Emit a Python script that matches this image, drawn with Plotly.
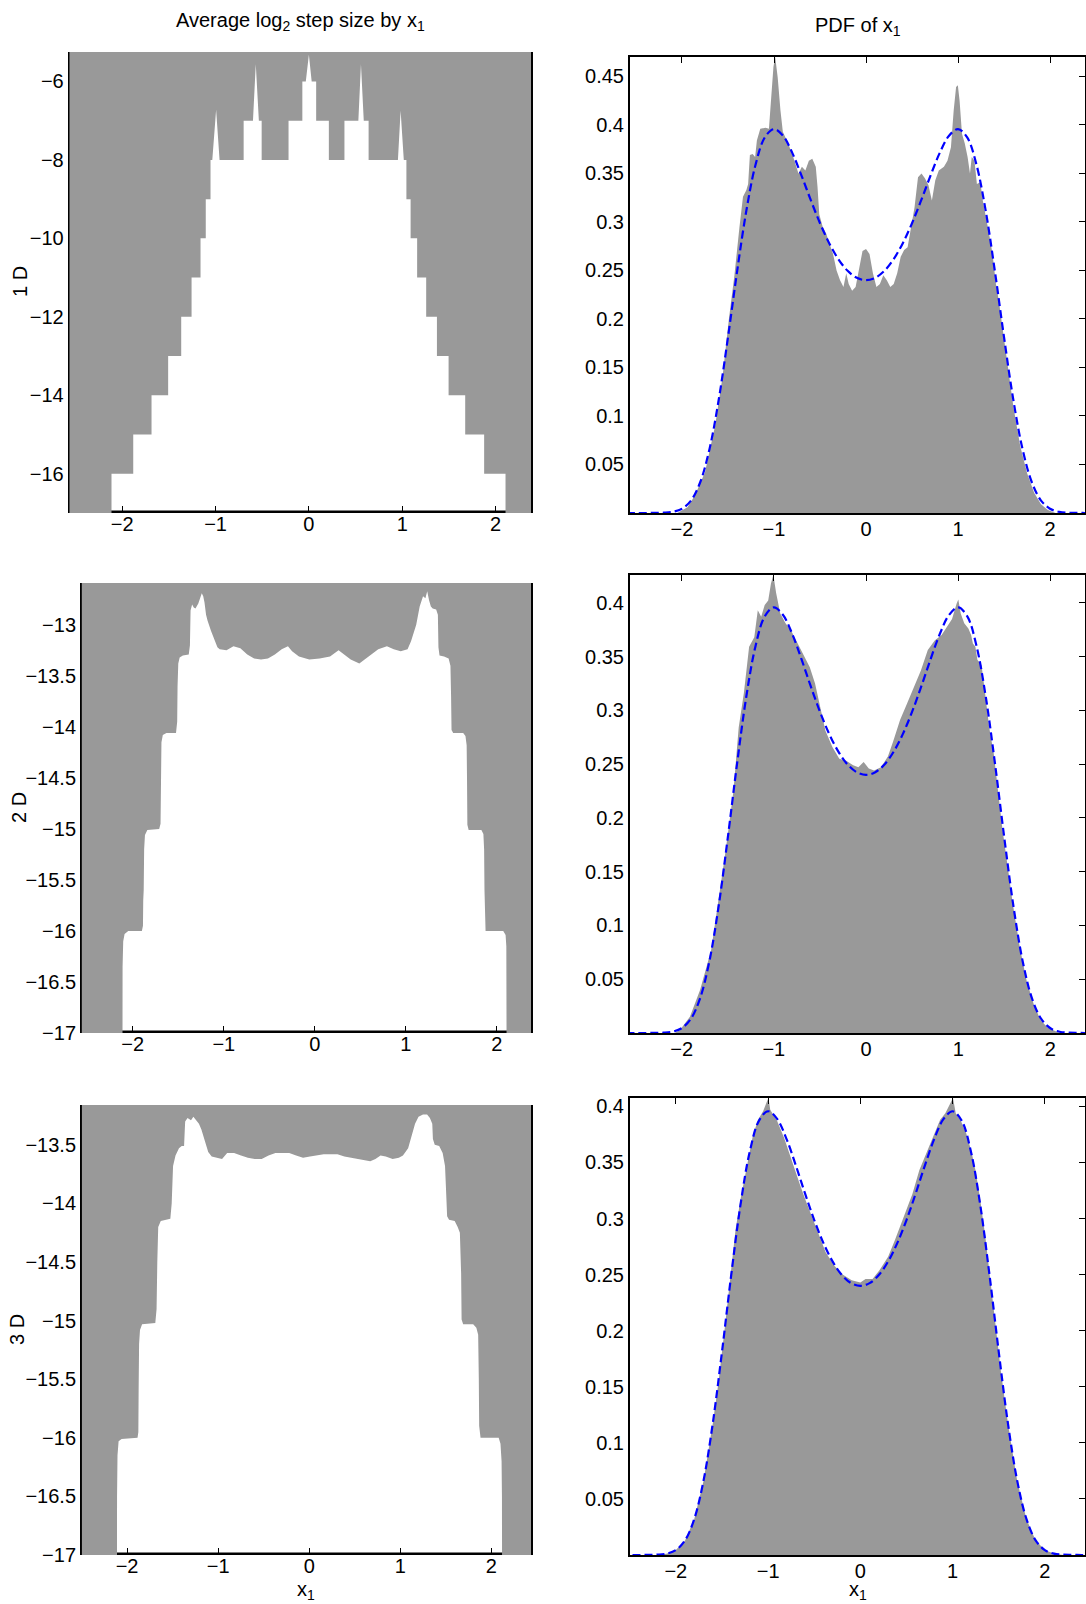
import plotly.graph_objects as go

W, H = 1086, 1604
FONT = "Liberation Sans, Arial, Helvetica, sans-serif"
GRAY = "#999999"
BLUE = "#0000ff"

# ---------------- data ----------------
x_ticks = [-2, -1, 0, 1, 2]

# Average log2 step size by x1, 1 D
step1d_x = [-2.57, -2.115, -2.115, -1.882, -1.882, -1.686, -1.686, -1.508, -1.508, -1.368,
            -1.368, -1.257, -1.257, -1.161, -1.161, -1.105, -1.105, -1.054, -1.054, -1.035,
            -0.994, -0.957, -0.699, -0.699, -0.599, -0.569, -0.536, -0.506, -0.506, -0.218,
            -0.218, -0.070, -0.070, -0.033, 0.0, 0.030, 0.078, 0.078, 0.214, 0.214,
            0.381, 0.381, 0.530, 0.558, 0.588, 0.640, 0.640, 0.954, 0.983, 1.017,
            1.045, 1.045, 1.090, 1.090, 1.160, 1.160, 1.257, 1.257, 1.372, 1.372,
            1.497, 1.497, 1.675, 1.675, 1.878, 1.878, 2.107, 2.107, 2.38]
step1d_y = [-18, -18, -16, -16, -15, -15, -14, -14, -13, -13,
            -12, -12, -11, -11, -10, -10, -9, -9, -8, -8,
            -6.72, -8, -8, -7, -7, -5.56, -7, -7, -8, -8,
            -7, -7, -6, -6, -5.32, -6, -6, -7, -7, -8,
            -8, -7, -7, -5.56, -7, -7, -8, -8, -6.75, -8,
            -8, -9, -9, -10, -10, -11, -11, -12, -12, -13,
            -13, -14, -14, -15, -15, -16, -16, -18, -18]

# 2 D
step2d_x = [-2.57, -2.114, -2.112, -2.105, -2.09, -2.05, -1.90, -1.888, -1.885, -1.880,
            -1.875, -1.866, -1.84, -1.71, -1.695, -1.690, -1.685, -1.67, -1.63, -1.525,
            -1.512, -1.508, -1.50, -1.485, -1.45, -1.385, -1.372, -1.365, -1.348, -1.33,
            -1.311, -1.28, -1.26, -1.242, -1.226, -1.212, -1.195, -1.178, -1.14, -1.102,
            -1.07, -1.045, -0.97, -0.894, -0.818, -0.742, -0.667, -0.591, -0.515, -0.439,
            -0.364, -0.295, -0.25, -0.174, -0.061, 0.053, 0.167, 0.261, 0.318, 0.394,
            0.489, 0.545, 0.621, 0.697, 0.792, 0.867, 0.943, 1.019, 1.057, 1.114,
            1.152, 1.189, 1.215, 1.235, 1.255, 1.275, 1.295, 1.333, 1.352, 1.358,
            1.37, 1.42, 1.47, 1.49, 1.497, 1.502, 1.52, 1.63, 1.655, 1.668,
            1.672, 1.676, 1.69, 1.83, 1.852, 1.86, 1.864, 1.868, 1.876, 2.07,
            2.096, 2.104, 2.107, 2.109, 2.38]
step2d_y = [-18, -18, -16.35, -16.1, -16.03, -16.0, -16.0, -15.95, -15.7, -15.6,
            -15.2, -15.06, -15.01, -15.0, -14.95, -14.5, -14.15, -14.08, -14.06, -14.06,
            -13.95, -13.6, -13.38, -13.32, -13.3, -13.29, -13.2, -12.86, -12.8, -12.83,
            -12.84, -12.79, -12.74, -12.69, -12.72, -12.78, -12.9, -12.96, -13.06, -13.15,
            -13.22, -13.24, -13.25, -13.21, -13.23, -13.29, -13.33, -13.34, -13.33, -13.29,
            -13.24, -13.21, -13.26, -13.31, -13.34, -13.33, -13.31, -13.25, -13.29, -13.34,
            -13.38, -13.34, -13.29, -13.24, -13.21, -13.24, -13.26, -13.24, -13.16, -13.0,
            -12.82, -12.72, -12.74, -12.67, -12.76, -12.82, -12.84, -12.85, -12.9, -13.22,
            -13.3, -13.31, -13.33, -13.4, -13.7, -14.03, -14.06, -14.06, -14.09, -14.18,
            -14.5, -14.96, -15.01, -15.01, -15.05, -15.2, -15.6, -15.9, -16.0, -16.0,
            -16.04, -16.15, -16.45, -18, -18]

# 3 D
step3d_x = [-2.50, -2.112, -2.11, -2.105, -2.093, -2.06, -1.885, -1.876, -1.873, -1.868,
            -1.858, -1.835, -1.69, -1.676, -1.668, -1.658, -1.63, -1.525, -1.51, -1.506,
            -1.495, -1.468, -1.43, -1.40, -1.374, -1.368, -1.362, -1.336, -1.298, -1.272,
            -1.241, -1.211, -1.184, -1.147, -1.109, -1.071, -1.014, -0.957, -0.901, -0.825,
            -0.749, -0.674, -0.598, -0.522, -0.447, -0.371, -0.295, -0.219, -0.144, -0.068,
            0.008, 0.083, 0.159, 0.235, 0.310, 0.386, 0.462, 0.537, 0.613, 0.670,
            0.727, 0.783, 0.840, 0.916, 0.984, 1.029, 1.086, 1.124, 1.162, 1.200,
            1.249, 1.294, 1.325, 1.351, 1.358, 1.378, 1.427, 1.465, 1.491, 1.502,
            1.514, 1.535, 1.597, 1.63, 1.654, 1.668, 1.673, 1.69, 1.80, 1.835,
            1.855, 1.862, 1.866, 1.881, 2.08, 2.10, 2.112, 2.116, 2.119, 2.44]
step3d_y = [-18, -18, -16.5, -16.15, -16.03, -16.01, -16.0, -15.95, -15.6, -15.2,
            -15.08, -15.03, -15.02, -14.9, -14.5, -14.2, -14.15, -14.13, -14.0, -13.85,
            -13.68, -13.59, -13.53, -13.51, -13.51, -13.4, -13.3, -13.27, -13.29, -13.26,
            -13.29, -13.32, -13.37, -13.47, -13.56, -13.6, -13.61, -13.62, -13.57, -13.57,
            -13.59, -13.61, -13.62, -13.62, -13.59, -13.57, -13.57, -13.57, -13.59, -13.61,
            -13.6, -13.59, -13.58, -13.58, -13.58, -13.6, -13.61, -13.62, -13.63, -13.64,
            -13.62, -13.59, -13.6, -13.62, -13.61, -13.59, -13.53, -13.43, -13.32, -13.26,
            -13.24, -13.24, -13.27, -13.32, -13.45, -13.5, -13.51, -13.57, -13.68, -13.88,
            -14.11, -14.14, -14.15, -14.2, -14.25, -14.6, -14.99, -15.03, -15.03, -15.06,
            -15.12, -15.5, -15.9, -16.0, -16.0, -16.05, -16.2, -16.5, -18, -18]

# PDF of x1: sampled histograms
hist1d_x = [-2.05, -1.94, -1.86, -1.75, -1.64, -1.56, -1.49, -1.46, -1.43, -1.375,
            -1.337, -1.30, -1.281, -1.262, -1.232, -1.205, -1.186, -1.149, -1.092, -1.055,
            -1.036, -1.006, -0.987, -0.960, -0.930, -0.904, -0.847, -0.791, -0.734, -0.697,
            -0.659, -0.621, -0.584, -0.546, -0.527, -0.508, -0.471, -0.433, -0.395, -0.358,
            -0.320, -0.282, -0.245, -0.215, -0.188, -0.151, -0.113, -0.075, -0.038, 0.0,
            0.038, 0.075, 0.113, 0.151, 0.188, 0.226, 0.264, 0.301, 0.339, 0.377,
            0.414, 0.452, 0.490, 0.527, 0.565, 0.603, 0.640, 0.678, 0.716, 0.753,
            0.791, 0.847, 0.885, 0.923, 0.953, 0.979, 0.998, 1.017, 1.043, 1.073,
            1.104, 1.130, 1.149, 1.179, 1.205, 1.243, 1.269, 1.299, 1.337, 1.375,
            1.412, 1.443, 1.525, 1.601, 1.676, 1.751, 1.827, 1.902, 1.977, 2.06]
hist1d_y = [0.0, 0.006, 0.018, 0.042, 0.09, 0.14, 0.2, 0.222, 0.245, 0.295,
            0.326, 0.333, 0.339, 0.369, 0.37, 0.367, 0.384, 0.396, 0.397, 0.396,
            0.425, 0.46, 0.47, 0.449, 0.415, 0.393, 0.381, 0.367, 0.35, 0.357,
            0.353, 0.363, 0.365, 0.357, 0.336, 0.308, 0.295, 0.288, 0.277, 0.267,
            0.25, 0.24, 0.233, 0.247, 0.236, 0.229, 0.233, 0.253, 0.27, 0.272,
            0.267, 0.247, 0.233, 0.236, 0.245, 0.24, 0.233, 0.236, 0.247, 0.264,
            0.271, 0.274, 0.295, 0.315, 0.346, 0.35, 0.345, 0.338, 0.322, 0.343,
            0.353, 0.357, 0.363, 0.377, 0.415, 0.439, 0.441, 0.425, 0.391, 0.381,
            0.367, 0.35, 0.367, 0.363, 0.339, 0.341, 0.322, 0.305, 0.288, 0.267,
            0.236, 0.219, 0.161, 0.11, 0.069, 0.041, 0.021, 0.009, 0.003, 0.0]

hist2d_x = [-2.08, -2.02, -1.91, -1.80, -1.68, -1.61, -1.53, -1.494, -1.438, -1.381,
            -1.325, -1.268, -1.212, -1.174, -1.137, -1.099, -1.061, -1.031, -1.005, -0.975,
            -0.930, -0.873, -0.817, -0.741, -0.666, -0.610, -0.553, -0.497, -0.440, -0.365,
            -0.290, -0.215, -0.139, -0.083, -0.026, 0.030, 0.087, 0.162, 0.237, 0.294,
            0.369, 0.444, 0.519, 0.595, 0.670, 0.745, 0.820, 0.877, 0.933, 0.982,
            1.001, 1.027, 1.065, 1.110, 1.140, 1.159, 1.186, 1.208, 1.253, 1.291,
            1.336, 1.385, 1.441, 1.479, 1.536, 1.592, 1.667, 1.743, 1.818, 1.893,
            1.968, 2.08, 2.12]
hist2d_y = [0.0, 0.0025, 0.015, 0.04, 0.077, 0.117, 0.165, 0.188, 0.225, 0.284,
            0.316, 0.359, 0.368, 0.393, 0.387, 0.398, 0.402, 0.418, 0.426, 0.409,
            0.39, 0.381, 0.375, 0.362, 0.35, 0.34, 0.325, 0.303, 0.281, 0.266,
            0.255, 0.253, 0.249, 0.247, 0.252, 0.246, 0.244, 0.247, 0.257, 0.271,
            0.291, 0.306, 0.322, 0.337, 0.356, 0.365, 0.37, 0.378, 0.385, 0.399,
            0.403, 0.39, 0.381, 0.376, 0.37, 0.362, 0.359, 0.347, 0.342, 0.316,
            0.284, 0.26, 0.215, 0.19, 0.155, 0.12, 0.08, 0.048, 0.027, 0.012,
            0.005, 0.0006, 0.0]

hist3d_x = [-2.2, -2.1, -2.0, -1.9, -1.8, -1.7, -1.6, -1.541, -1.466, -1.391,
            -1.353, -1.297, -1.248, -1.203, -1.165, -1.109, -1.053, -1.015, -0.996, -0.977,
            -0.902, -0.827, -0.752, -0.658, -0.602, -0.526, -0.451, -0.376, -0.282, -0.188,
            -0.094, 0.0, 0.056, 0.132, 0.207, 0.301, 0.376, 0.47, 0.564, 0.639,
            0.714, 0.789, 0.865, 0.921, 0.977, 1.004, 1.034, 1.09, 1.147, 1.203,
            1.248, 1.297, 1.353, 1.41, 1.466, 1.523, 1.6, 1.7, 1.8, 1.9,
            2.0, 2.1, 2.2]
hist3d_y = [0.0, 0.0012, 0.0045, 0.013, 0.032, 0.066, 0.117, 0.152, 0.205, 0.262,
            0.29, 0.318, 0.34, 0.36, 0.374, 0.388, 0.396, 0.404, 0.4075, 0.397,
            0.387, 0.372, 0.353, 0.331, 0.318, 0.302, 0.285, 0.27, 0.258, 0.25,
            0.245, 0.243, 0.246, 0.246, 0.254, 0.266, 0.281, 0.302, 0.322, 0.343,
            0.358, 0.373, 0.388, 0.394, 0.403, 0.4075, 0.394, 0.387, 0.376, 0.36,
            0.343, 0.318, 0.285, 0.243, 0.203, 0.164, 0.117, 0.066, 0.032, 0.013,
            0.0045, 0.0012, 0.0]

# blue dashed reference density
pdf_x = [-2.6, -2.5, -2.4, -2.3, -2.2, -2.1, -2.0, -1.9, -1.8, -1.7,
         -1.6, -1.5, -1.4, -1.3, -1.2, -1.1, -1.0, -0.9, -0.8, -0.7,
         -0.6, -0.5, -0.4, -0.3, -0.2, -0.1, 0.0, 0.1, 0.2, 0.3,
         0.4, 0.5, 0.6, 0.7, 0.8, 0.9, 1.0, 1.1, 1.2, 1.3,
         1.4, 1.5, 1.6, 1.7, 1.8, 1.9, 2.0, 2.1, 2.2, 2.3,
         2.4, 2.5]
pdf_y = [0.0, 0.0, 0.0, 0.0001, 0.0003, 0.0012, 0.0044, 0.0131, 0.0322, 0.0663,
         0.1172, 0.1812, 0.2496, 0.3119, 0.3592, 0.3871, 0.3957, 0.3886, 0.3709, 0.3475,
         0.3224, 0.2987, 0.2781, 0.2616, 0.2496, 0.2424, 0.2400, 0.2424, 0.2496, 0.2616,
         0.2781, 0.2987, 0.3224, 0.3475, 0.3709, 0.3886, 0.3957, 0.3871, 0.3592, 0.3119,
         0.2496, 0.1812, 0.1172, 0.0663, 0.0322, 0.0131, 0.0044, 0.0012, 0.0003, 0.0001,
         0.0, 0.0]

left_yticks = [[-16, -14, -12, -10, -8, -6],
               [-17, -16.5, -16, -15.5, -15, -14.5, -14, -13.5, -13],
               [-17, -16.5, -16, -15.5, -15, -14.5, -14, -13.5]]
right_yticks = [[0.05, 0.1, 0.15, 0.2, 0.25, 0.3, 0.35, 0.4, 0.45],
                [0.05, 0.1, 0.15, 0.2, 0.25, 0.3, 0.35, 0.4],
                [0.05, 0.1, 0.15, 0.2, 0.25, 0.3, 0.35, 0.4]]
row_labels = ["1 D", "2 D", "3 D"]

# ---------------- layout (pixels) ----------------
xlims = [[-2.565, 2.38], [-2.56, 2.375], [-2.497, 2.435]]
left_ylims = [[-17, -5.25], [-17, -12.59], [-17, -13.16]]
right_ylims = [[0, 0.47], [0, 0.4258], [0, 0.4075]]
left_boxes = [(69.5, 531, 52, 513), (81.8, 531, 583, 1033), (81.8, 531, 1105, 1555)]
right_boxes = [(630, 1085, 57, 513), (630, 1085, 575, 1033), (630, 1085, 1098, 1555)]
row_label_pos = [(20, 282), (19, 808), (17, 1330)]


def fmt(v):
    return f"{v:g}".replace("-", "\u2212")


def xdom(l, r):
    return [l / W, r / W]


def ydom(t, b):
    return [1 - b / H, 1 - t / H]


tickfont = dict(family=FONT, size=20, color="black")
common = dict(showgrid=False, zeroline=False, linecolor="black",
              tickcolor="black", tickfont=tickfont,
              automargin=False, fixedrange=True)

left_curves = [(step1d_x, step1d_y), (step2d_x, step2d_y), (step3d_x, step3d_y)]
right_hists = [(hist1d_x, hist1d_y), (hist2d_x, hist2d_y), (hist3d_x, hist3d_y)]

fig = go.Figure()
layout = {}

for r in range(3):
    kl = 2 * r + 1
    kr = 2 * r + 2
    ko = 7 + r  # overlay axes for the mirrored ticks of the right panel
    # ----- left panel -----
    lx, rx, ty, by = left_boxes[r]
    cx, cy = left_curves[r]
    # bottom axis line, hidden wherever the grey area reaches the bottom
    fig.add_trace(go.Scatter(x=xlims[r], y=[left_ylims[r][0]] * 2, mode="lines",
                             line=dict(color="black", width=5), hoverinfo="skip",
                             xaxis=f"x{kl}", yaxis=f"y{kl}", showlegend=False))
    fig.add_trace(go.Scatter(x=cx, y=cy, mode="lines", line=dict(color=GRAY, width=0),
                             fill="tozeroy", fillcolor=GRAY, hoverinfo="skip",
                             xaxis=f"x{kl}", yaxis=f"y{kl}", showlegend=False))
    layout[f"xaxis{kl}"] = dict(common, domain=xdom(lx, rx), anchor=f"y{kl}",
                                range=xlims[r], tickvals=x_ticks,
                                ticktext=[fmt(v) for v in x_ticks],
                                showline=False, mirror=True,
                                ticks="inside", ticklen=7, tickwidth=1.3,
                                ticklabelstandoff=-3, layer="below traces")
    layout[f"yaxis{kl}"] = dict(common, domain=ydom(ty, by), anchor=f"x{kl}",
                                range=left_ylims[r], tickvals=left_yticks[r],
                                ticktext=[fmt(v) for v in left_yticks[r]],
                                showline=True, mirror=True,
                                ticks="inside", ticklen=6, tickwidth=1.3,
                                linewidth=1.5, layer="below traces")
    # ----- right panel -----
    lx, rx, ty, by = right_boxes[r]
    hx, hy = right_hists[r]
    fig.add_trace(go.Scatter(x=hx, y=hy, mode="lines", line=dict(color=GRAY, width=0),
                             fill="tozeroy", fillcolor=GRAY, hoverinfo="skip",
                             xaxis=f"x{kr}", yaxis=f"y{kr}", showlegend=False))
    fig.add_trace(go.Scatter(x=pdf_x, y=pdf_y, mode="lines",
                             line=dict(color=BLUE, width=2.2, dash="8px,4px", shape="spline"),
                             hoverinfo="skip", xaxis=f"x{kr}", yaxis=f"y{kr}",
                             showlegend=False))
    layout[f"xaxis{kr}"] = dict(common, domain=xdom(lx, rx), anchor=f"y{kr}",
                                range=xlims[r], tickvals=x_ticks,
                                ticktext=[fmt(v) for v in x_ticks],
                                showline=True, mirror=True, ticks="",
                                ticklabelstandoff=-3, linewidth=2, layer="above traces")
    layout[f"yaxis{kr}"] = dict(common, domain=ydom(ty, by), anchor=f"x{kr}",
                                range=right_ylims[r], tickvals=right_yticks[r],
                                ticktext=[fmt(v) for v in right_yticks[r]],
                                showline=True, mirror=True, ticks="",
                                linewidth=2, layer="above traces")
    # overlay axes carrying the inward ticks on top and right
    fig.add_trace(go.Scatter(x=[0], y=[right_ylims[r][1] / 2], mode="markers",
                             marker=dict(opacity=0), hoverinfo="skip",
                             xaxis=f"x{ko}", yaxis=f"y{ko}", showlegend=False))
    layout[f"xaxis{ko}"] = dict(overlaying=f"x{kr}", anchor=f"y{kr}", side="top",
                                range=xlims[r], tickvals=x_ticks, ticks="inside",
                                ticklen=6, tickwidth=1.3, tickcolor="black",
                                showticklabels=False, showline=False, showgrid=False,
                                zeroline=False, automargin=False, fixedrange=True)
    layout[f"yaxis{ko}"] = dict(overlaying=f"y{kr}", anchor=f"x{kr}", side="right",
                                range=right_ylims[r], tickvals=right_yticks[r],
                                ticks="inside", ticklen=6, tickwidth=1.3,
                                tickcolor="black", showticklabels=False, showline=False,
                                showgrid=False, zeroline=False, automargin=False,
                                fixedrange=True)

annots = []
afont = dict(family=FONT, size=20, color="black")
annots.append(dict(text="Average log<sub>2</sub> step size by x<sub>1</sub>",
                   x=300 / W, y=1 - 22 / H, xref="paper", yref="paper",
                   xanchor="center", yanchor="middle", showarrow=False, font=afont))
annots.append(dict(text="PDF of x<sub>1</sub>", x=858 / W, y=1 - 26 / H,
                   xref="paper", yref="paper", xanchor="center", yanchor="middle",
                   showarrow=False, font=afont))
for lab, (px, py) in zip(row_labels, row_label_pos):
    annots.append(dict(text=lab, x=px / W, y=1 - py / H, xref="paper", yref="paper",
                       xanchor="center", yanchor="middle", textangle=-90,
                       showarrow=False, font=afont))
for px in (306, 858):
    annots.append(dict(text="x<sub>1</sub>", x=px / W, y=1 - 1590 / H, xref="paper",
                       yref="paper", xanchor="center", yanchor="middle",
                       showarrow=False, font=afont))

fig.update_layout(template="none", width=W, height=H,
                  margin=dict(l=0, r=0, t=0, b=0),
                  paper_bgcolor="white", plot_bgcolor="white",
                  font=dict(family=FONT, size=20, color="black"),
                  showlegend=False, annotations=annots, **layout)

# the page's default 8px body margin would shift the whole figure
fig.write_html("out.html", config={"displayModeBar": False},
               post_script="document.body.style.margin='0px';")
